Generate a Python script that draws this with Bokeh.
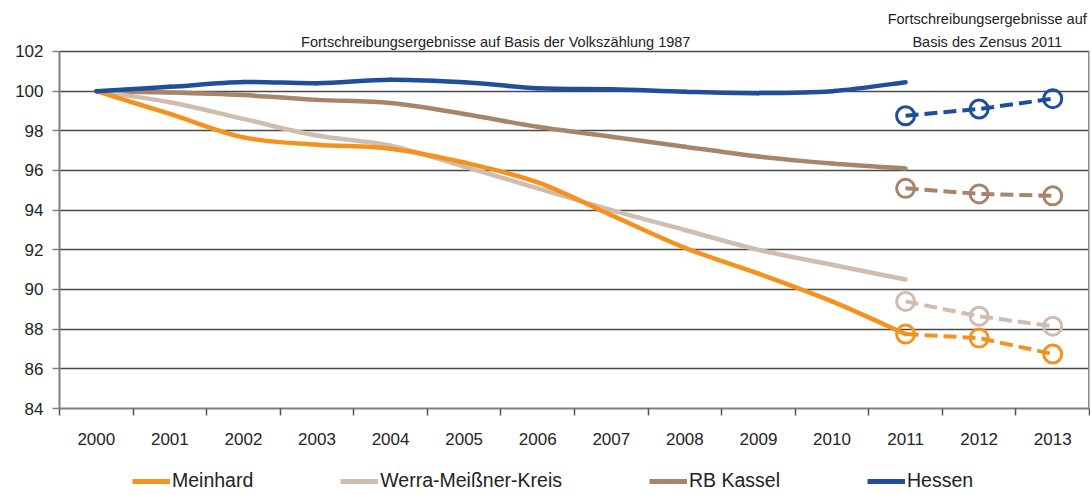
import numpy as np
from bokeh.plotting import figure
from bokeh.layouts import column
from bokeh.models import Range1d, FixedTicker, Legend, LegendItem, Label, ColumnDataSource
from bokeh.embed import file_html
from bokeh.resources import INLINE

# ---------------- data ----------------
years = ["2000", "2001", "2002", "2003", "2004", "2005", "2006",
         "2007", "2008", "2009", "2010", "2011", "2012", "2013"]
base_years = years[:12]
meinhard = [100.0, 98.85, 97.67, 97.3, 97.1, 96.4, 95.4, 93.75, 92.1, 90.8, 89.4, 87.75]
werra = [100.0, 99.44, 98.6, 97.76, 97.25, 96.2, 95.1, 94.0, 93.0, 92.0, 91.25, 90.5]
kassel = [100.0, 99.93, 99.8, 99.56, 99.4, 98.85, 98.2, 97.7, 97.2, 96.7, 96.35, 96.1]
hessen = [100.0, 100.22, 100.46, 100.4, 100.58, 100.45, 100.15, 100.1, 99.97, 99.9, 100.0, 100.45]

zensus_years = ["2011", "2012", "2013"]
meinhard_z = [87.75, 87.55, 86.75]
werra_z = [89.4, 88.65, 88.15]
kassel_z = [95.1, 94.82, 94.72]
hessen_z = [98.76, 99.1, 99.62]

series = ["Meinhard", "Werra-Meißner-Kreis", "RB Kassel", "Hessen"]
colors = ["#F5921E", "#CFBDAF", "#A8846A", "#1F4E9B"]

y_ticks = list(range(84, 103, 2))
Y_MIN, Y_MAX = 84, 102
Y_TOP = 104.57          # headroom above the axis for the section notes

FONT = "Liberation Sans"
W = 1090

p = figure(width=W, height=460, output_backend="svg", toolbar_location=None,
           x_range=Range1d(-0.5, len(years) - 0.5), y_range=Range1d(Y_MIN, Y_TOP),
           min_border_left=59, min_border_right=1, min_border_top=0, min_border_bottom=52,
           title=None)
p.background_fill_color = "white"
p.border_fill_color = "white"
p.outline_line_color = None

# axes
p.yaxis.ticker = FixedTicker(ticks=y_ticks)
p.yaxis.bounds = (Y_MIN, Y_MAX)
p.yaxis.major_tick_out = 7
p.yaxis.major_tick_in = 0
p.yaxis.minor_tick_line_color = None
p.yaxis.axis_line_color = "#808080"
p.yaxis.axis_line_width = 2
p.yaxis.major_tick_line_color = "#808080"
p.yaxis.major_tick_line_width = 1.5
p.yaxis.major_label_standoff = 9
p.yaxis.major_label_text_font = FONT
p.yaxis.major_label_text_font_size = "17px"
p.yaxis.major_label_text_color = "#252525"

xt = list(range(len(years)))
p.xaxis.ticker = FixedTicker(ticks=xt, minor_ticks=[i - 0.5 for i in range(len(years) + 1)])
p.xaxis.major_label_overrides = {i: years[i] for i in xt}
p.xaxis.major_tick_out = 0
p.xaxis.major_tick_in = 0
p.xaxis.minor_tick_out = 7
p.xaxis.minor_tick_in = 0
p.xaxis.minor_tick_line_color = "#555555"
p.xaxis.minor_tick_line_width = 1.5
p.xaxis.axis_line_color = "#808080"
p.xaxis.axis_line_width = 2
p.xaxis.major_label_standoff = 17
p.xaxis.major_label_text_font = FONT
p.xaxis.major_label_text_font_size = "17px"
p.xaxis.major_label_text_color = "#252525"

p.xgrid.visible = False
p.ygrid.grid_line_color = "#4a4a4a"
p.ygrid.grid_line_width = 1.3

# right border of the plot area
p.segment(x0=[len(years) - 0.5], y0=[Y_MIN], x1=[len(years) - 0.5], y1=[Y_MAX],
          line_color="#8a8a8a", line_width=3)


def smooth_source(vals, labels):
    v = np.array(vals, dtype=float)
    x = np.array([years.index(l) for l in labels], dtype=float)
    vp = np.concatenate([[v[0]], v, [v[-1]]])
    xp = np.concatenate([[x[0]], x, [x[-1]]])
    i = np.arange(len(v) - 1)
    return ColumnDataSource(dict(
        x0=x[i], y0=v[i], x1=x[i + 1], y1=v[i + 1],
        cx0=x[i] + (xp[i + 2] - xp[i]) / 6.0,
        cy0=v[i] + (vp[i + 2] - vp[i]) / 6.0,
        cx1=x[i + 1] - (xp[i + 3] - xp[i + 1]) / 6.0,
        cy1=v[i + 1] - (vp[i + 3] - vp[i + 1]) / 6.0,
    ))


base_vals = [meinhard, werra, kassel, hessen]
z_vals = [meinhard_z, werra_z, kassel_z, hessen_z]
base_x = [years.index(l) for l in base_years]

# draw order: RB Kassel, Werra, Meinhard, Hessen
for k in [2, 1, 0, 3]:
    src = smooth_source(base_vals[k], base_years)
    p.bezier(x0="x0", y0="y0", x1="x1", y1="y1", cx0="cx0", cy0="cy0",
             cx1="cx1", cy1="cy1", source=src, line_color=colors[k],
             line_width=4.5, line_cap="round")

for k in [2, 1, 0, 3]:
    zx = [years.index(l) for l in zensus_years]
    p.line(x=zx, y=z_vals[k], line_color=colors[k], line_width=4, line_dash="13 6")
    p.scatter(x=zx, y=z_vals[k], marker="circle", size=18, line_color=colors[k],
              line_width=3, fill_alpha=0)

# section notes
note_kw = dict(text_align="center", text_baseline="middle", text_font=FONT,
               text_font_size="14.5px", text_color="#222222")
p.add_layout(Label(x=5.43, y=102.5, text="Fortschreibungsergebnisse auf Basis der Volkszählung 1987", **note_kw))
p.add_layout(Label(x=12.11, y=103.66, text="Fortschreibungsergebnisse auf", **note_kw))
p.add_layout(Label(x=12.11, y=102.5, text="Basis des Zensus 2011", **note_kw))

# legend strip (the series are re-plotted here outside its visible range,
# only to provide the legend glyphs)
q = figure(width=W, height=34, output_backend="svg", toolbar_location=None,
           x_range=Range1d(0, 1), y_range=Range1d(0, 1),
           x_axis_location=None, y_axis_location=None,
           min_border_left=0, min_border_right=0, min_border_top=0, min_border_bottom=0,
           title=None)
q.grid.visible = False
q.outline_line_color = None
q.background_fill_color = "white"
q.border_fill_color = "white"
items = []
for name, c, vals in zip(series, colors, base_vals):
    r = q.line(x=base_x, y=vals, line_color=c, line_width=5)
    items.append(LegendItem(label=name, renderers=[r]))
legend = Legend(items=items, orientation="horizontal", location=(73, 2),
                spacing=87, glyph_width=38, glyph_height=20, label_height=20,
                label_standoff=2, padding=0, margin=0, border_line_color=None,
                background_fill_alpha=0, label_text_font=FONT,
                label_text_font_size="19.5px", label_text_color="#222222")
q.add_layout(legend, "center")

layout = column(p, q, spacing=0)
open("out.html", "w").write(file_html(layout, INLINE))
